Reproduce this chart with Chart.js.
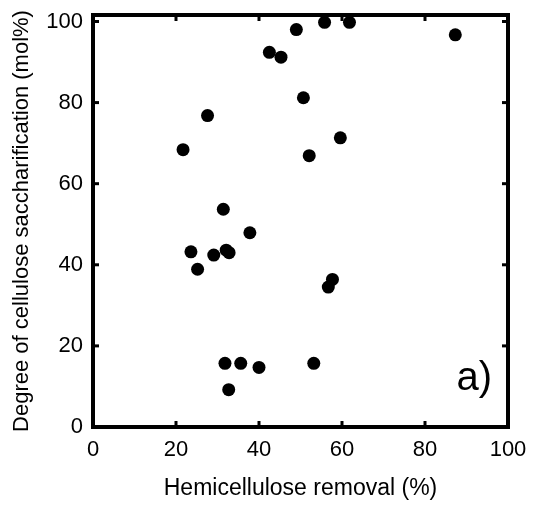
<!DOCTYPE html>
<html>
<head>
<meta charset="utf-8">
<script src="https://cdn.jsdelivr.net/npm/chart.js@4.4.1/dist/chart.umd.min.js"></script>
<style>
  html, body { margin: 0; padding: 0; background: #fff; }
  #wrap { width: 533px; height: 505px; }
</style>
</head>
<body>
<div id="wrap"><canvas id="c" width="533" height="505"></canvas></div>
<script>
// ---- data ----
const hemicelluloseRemoval = [49.0, 55.8, 61.8, 87.3, 42.5, 45.3, 50.7, 27.6, 21.7, 59.6, 52.1, 31.4, 37.8, 23.6, 29.1, 32.1, 32.8, 25.2, 57.7, 56.7, 31.8, 35.6, 40.0, 53.2, 32.7];
const saccharification     = [98.0, 99.8, 99.8, 96.7, 92.4, 91.2, 81.2, 76.8, 68.4, 71.3, 66.9, 53.7, 47.9, 43.2, 42.4, 43.6, 43.0, 38.9, 36.4, 34.5, 15.7, 15.7, 14.7, 15.7, 9.2];
const xTickValues = [0, 20, 40, 60, 80, 100];
const yTickValues = [0, 20, 40, 60, 80, 100];
const xTitle = 'Hemicellulose removal (%)';
const yTitle = 'Degree of cellulose saccharification (mol%)';
const panelLabel = 'a)';

const points = hemicelluloseRemoval.map((x, i) => ({ x: x, y: saccharification[i] }));
const FONT = "'Liberation Sans', Arial, sans-serif";

const framePlugin = {
  id: 'frame',
  beforeDatasetsDraw(chart) {
    const { ctx, chartArea: a, scales } = chart;
    ctx.save();
    ctx.strokeStyle = '#000';
    // ticks (inward, all four sides)
    ctx.lineWidth = 3;
    const tl = 6;
    xTickValues.forEach(v => {
      const px = scales.x.getPixelForValue(v);
      ctx.beginPath(); ctx.moveTo(px, a.bottom); ctx.lineTo(px, a.bottom - tl); ctx.stroke();
      ctx.beginPath(); ctx.moveTo(px, a.top); ctx.lineTo(px, a.top + tl); ctx.stroke();
    });
    yTickValues.forEach(v => {
      const py = scales.y.getPixelForValue(v);
      ctx.beginPath(); ctx.moveTo(a.left, py); ctx.lineTo(a.left + tl, py); ctx.stroke();
      ctx.beginPath(); ctx.moveTo(a.right, py); ctx.lineTo(a.right - tl, py); ctx.stroke();
    });
    // frame
    ctx.lineWidth = 4;
    ctx.strokeRect(a.left, a.top, a.right - a.left, a.bottom - a.top);
    // panel label
    ctx.fillStyle = '#000';
    ctx.font = '40px ' + FONT;
    ctx.textAlign = 'right';
    ctx.textBaseline = 'alphabetic';
    ctx.fillText(panelLabel, a.right - 16, a.bottom - 37);
    ctx.restore();
  }
};

new Chart(document.getElementById('c'), {
  type: 'scatter',
  data: {
    datasets: [{
      data: points,
      backgroundColor: '#000',
      borderColor: '#000',
      borderWidth: 0,
      pointRadius: 6.5,
      pointHoverRadius: 6.5
    }]
  },
  options: {
    responsive: false,
    animation: false,
    devicePixelRatio: 1,
    layout: { padding: { top: 15, right: 25, left: 0, bottom: 0 } },
    plugins: { legend: { display: false }, tooltip: { enabled: false } },
    scales: {
      x: {
        type: 'linear',
        min: 0, max: 100,
        afterBuildTicks(scale) { scale.ticks = xTickValues.map(v => ({ value: v })); },
        afterFit(scale) { scale.height = 78; scale.paddingLeft = 0; scale.paddingRight = 0; },
        grid: { display: false, drawTicks: false },
        border: { display: false },
        ticks: { color: '#000', font: { family: FONT, size: 22 }, padding: 10, maxRotation: 0 },
        title: { display: true, text: xTitle, color: '#000', font: { family: FONT, size: 23 }, padding: { top: 0, bottom: 3 } }
      },
      y: {
        type: 'linear',
        min: 0, max: 101.6,
        afterBuildTicks(scale) { scale.ticks = yTickValues.map(v => ({ value: v })); },
        afterFit(scale) { scale.width = 93; scale.paddingTop = 0; scale.paddingBottom = 0; },
        grid: { display: false, drawTicks: false },
        border: { display: false },
        ticks: { color: '#000', font: { family: FONT, size: 22 }, padding: 10 },
        title: { display: true, text: yTitle, color: '#000', font: { family: FONT, size: 22 }, padding: { top: 9, bottom: 0 } }
      }
    }
  },
  plugins: [framePlugin]
});
</script>
</body>
</html>
